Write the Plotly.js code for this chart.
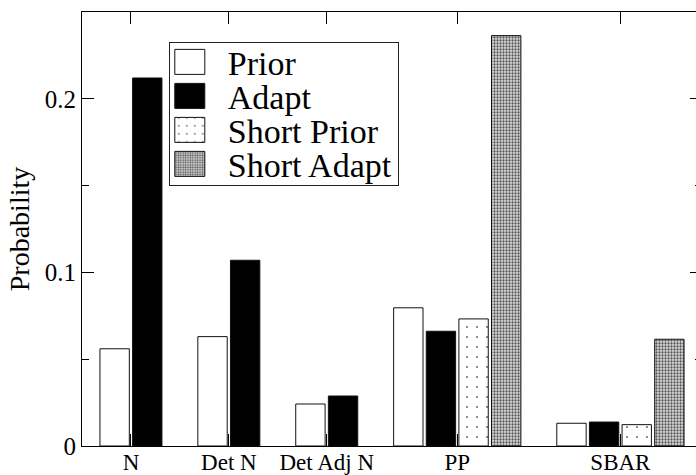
<!DOCTYPE html>
<html><head><meta charset="utf-8">
<script src="https://cdn.plot.ly/plotly-3.0.1.min.js"></script>
<style>html,body{margin:0;padding:0;overflow:hidden;background:#fff}#chart{width:702px;height:475px}</style>
</head><body><div id="chart"></div>
<script>
const categories = ['N', 'Det N', 'Det Adj N', 'PP', 'SBAR'];
const seriesNames = ['Prior', 'Adapt', 'Short Prior', 'Short Adapt'];
const prior      = [0.056, 0.063, 0.0242, 0.0796, 0.0131];
const adapt      = [0.212, 0.107, 0.0288, 0.0661, 0.0138];
const shortPrior = [null,  null,  null,   0.0732, 0.0123];
const shortAdapt = [null,  null,  null,   0.2364, 0.0615];
const yTickVals  = [0, 0.1, 0.2];
const yTickText  = ['0', '0.1', '0.2'];

// Bars of one category sit in consecutive slots, one empty slot between categories.
const series = [prior, adapt, shortPrior, shortAdapt];
const slotX = series.map(() => categories.map(() => null));
const centers = [];
let slot = 0;
categories.forEach((c, j) => {
  slot += 1;
  const start = slot;
  series.forEach((s, k) => { if (s[j] != null) { slotX[k][j] = slot; slot += 1; } });
  centers.push((start + slot - 1) / 2);
});

const FONT = 'Liberation Serif, Times New Roman, serif';
const markers = [
  {color: '#ffffff'},
  {color: '#000000'},
  {color: '#ffffff', pattern: {shape: '.', size: 10, solidity: 0.02, fgcolor: '#000000', bgcolor: '#ffffff', fillmode: 'replace'}},
  {color: '#bbbbbb', pattern: {shape: '.', size: 3, solidity: 0.45, fgcolor: '#555555', bgcolor: '#dddddd', fillmode: 'replace'}}
];

const traces = series.map((s, k) => ({
  type: 'bar',
  name: seriesNames[k],
  x: slotX[k],
  y: s,
  width: 0.9,
  marker: Object.assign({line: {color: '#111111', width: 1}}, markers[k]),
  hoverinfo: 'skip'
}));

const layout = {
  width: 702, height: 475,
  margin: {l: 82, r: 0, t: 12, b: 29, pad: 0},
  paper_bgcolor: '#ffffff', plot_bgcolor: '#ffffff',
  font: {family: FONT, color: '#000000', size: 24},
  barmode: 'overlay',
  showlegend: true,
  legend: {
    x: 0.14, y: 0.93, xanchor: 'left', yanchor: 'top',
    bordercolor: '#222222', borderwidth: 1, bgcolor: '#ffffff',
    font: {family: FONT, size: 34, color: '#000000'},
    itemwidth: 48,
    tracegroupgap: 0, traceorder: 'normal'
  },
  xaxis: {
    range: [0, slot],
    tickmode: 'array', tickvals: centers, ticktext: categories,
    ticks: 'inside', ticklen: 12, tickwidth: 1, tickcolor: '#000000',
    ticklabelstandoff: -5,
    showline: true, linecolor: '#000000', linewidth: 1, mirror: 'allticks',
    showgrid: false, zeroline: false,
    tickfont: {family: FONT, size: 23, color: '#000000'}
  },
  yaxis: {
    range: [0, 0.25],
    tickmode: 'array', tickvals: yTickVals, ticktext: yTickText,
    ticks: 'inside', ticklen: 12, tickwidth: 1, tickcolor: '#000000',
    minor: {tickmode: 'linear', tick0: 0, dtick: 0.05, ticks: 'inside', ticklen: 7, tickcolor: '#000000', showgrid: false},
    showline: true, linecolor: '#000000', linewidth: 1, mirror: 'allticks',
    showgrid: false, zeroline: false,
    tickfont: {family: FONT, size: 25, color: '#000000'},
    title: {text: 'Probability', standoff: 6, font: {family: FONT, size: 28, color: '#000000'}}
  }
};

// Tighter legend rows and larger swatches, as in the reference.
function tweakLegend(gd) {
  const leg = gd.querySelector('g.legend');
  if (!leg) return;
  const rowH = 34, firstY = 19.5, boxW = 230, boxH = 144;
  leg.querySelectorAll('g.traces').forEach((g, i) => {
    const t = g.getAttribute('transform') || '';
    const m = /translate\(\s*([-\d.e]+)[ ,]+([-\d.e]+)\s*\)/.exec(t);
    const x = m ? parseFloat(m[1]) : 1;
    g.setAttribute('transform', 'translate(' + x + ',' + (firstY + rowH * i) + ')');
    g.querySelectorAll('g.legendpoints path').forEach(p => p.setAttribute('d', 'M6,12.5H-24V-12.5H6Z'));
  });
  const bg = leg.querySelector('rect.bg');
  if (bg) { bg.setAttribute('width', boxW - 1); bg.setAttribute('height', boxH - 1); }
  const clip = gd.querySelector('clipPath[id^="legend"] rect');
  if (clip) { clip.setAttribute('width', boxW - 2); clip.setAttribute('height', boxH - 2); }
}

const gd = document.getElementById('chart');
Plotly.newPlot(gd, traces, layout, {displayModeBar: false, staticPlot: true}).then(() => {
  tweakLegend(gd);
  gd.on('plotly_afterplot', () => tweakLegend(gd));
});
</script>
</body></html>
